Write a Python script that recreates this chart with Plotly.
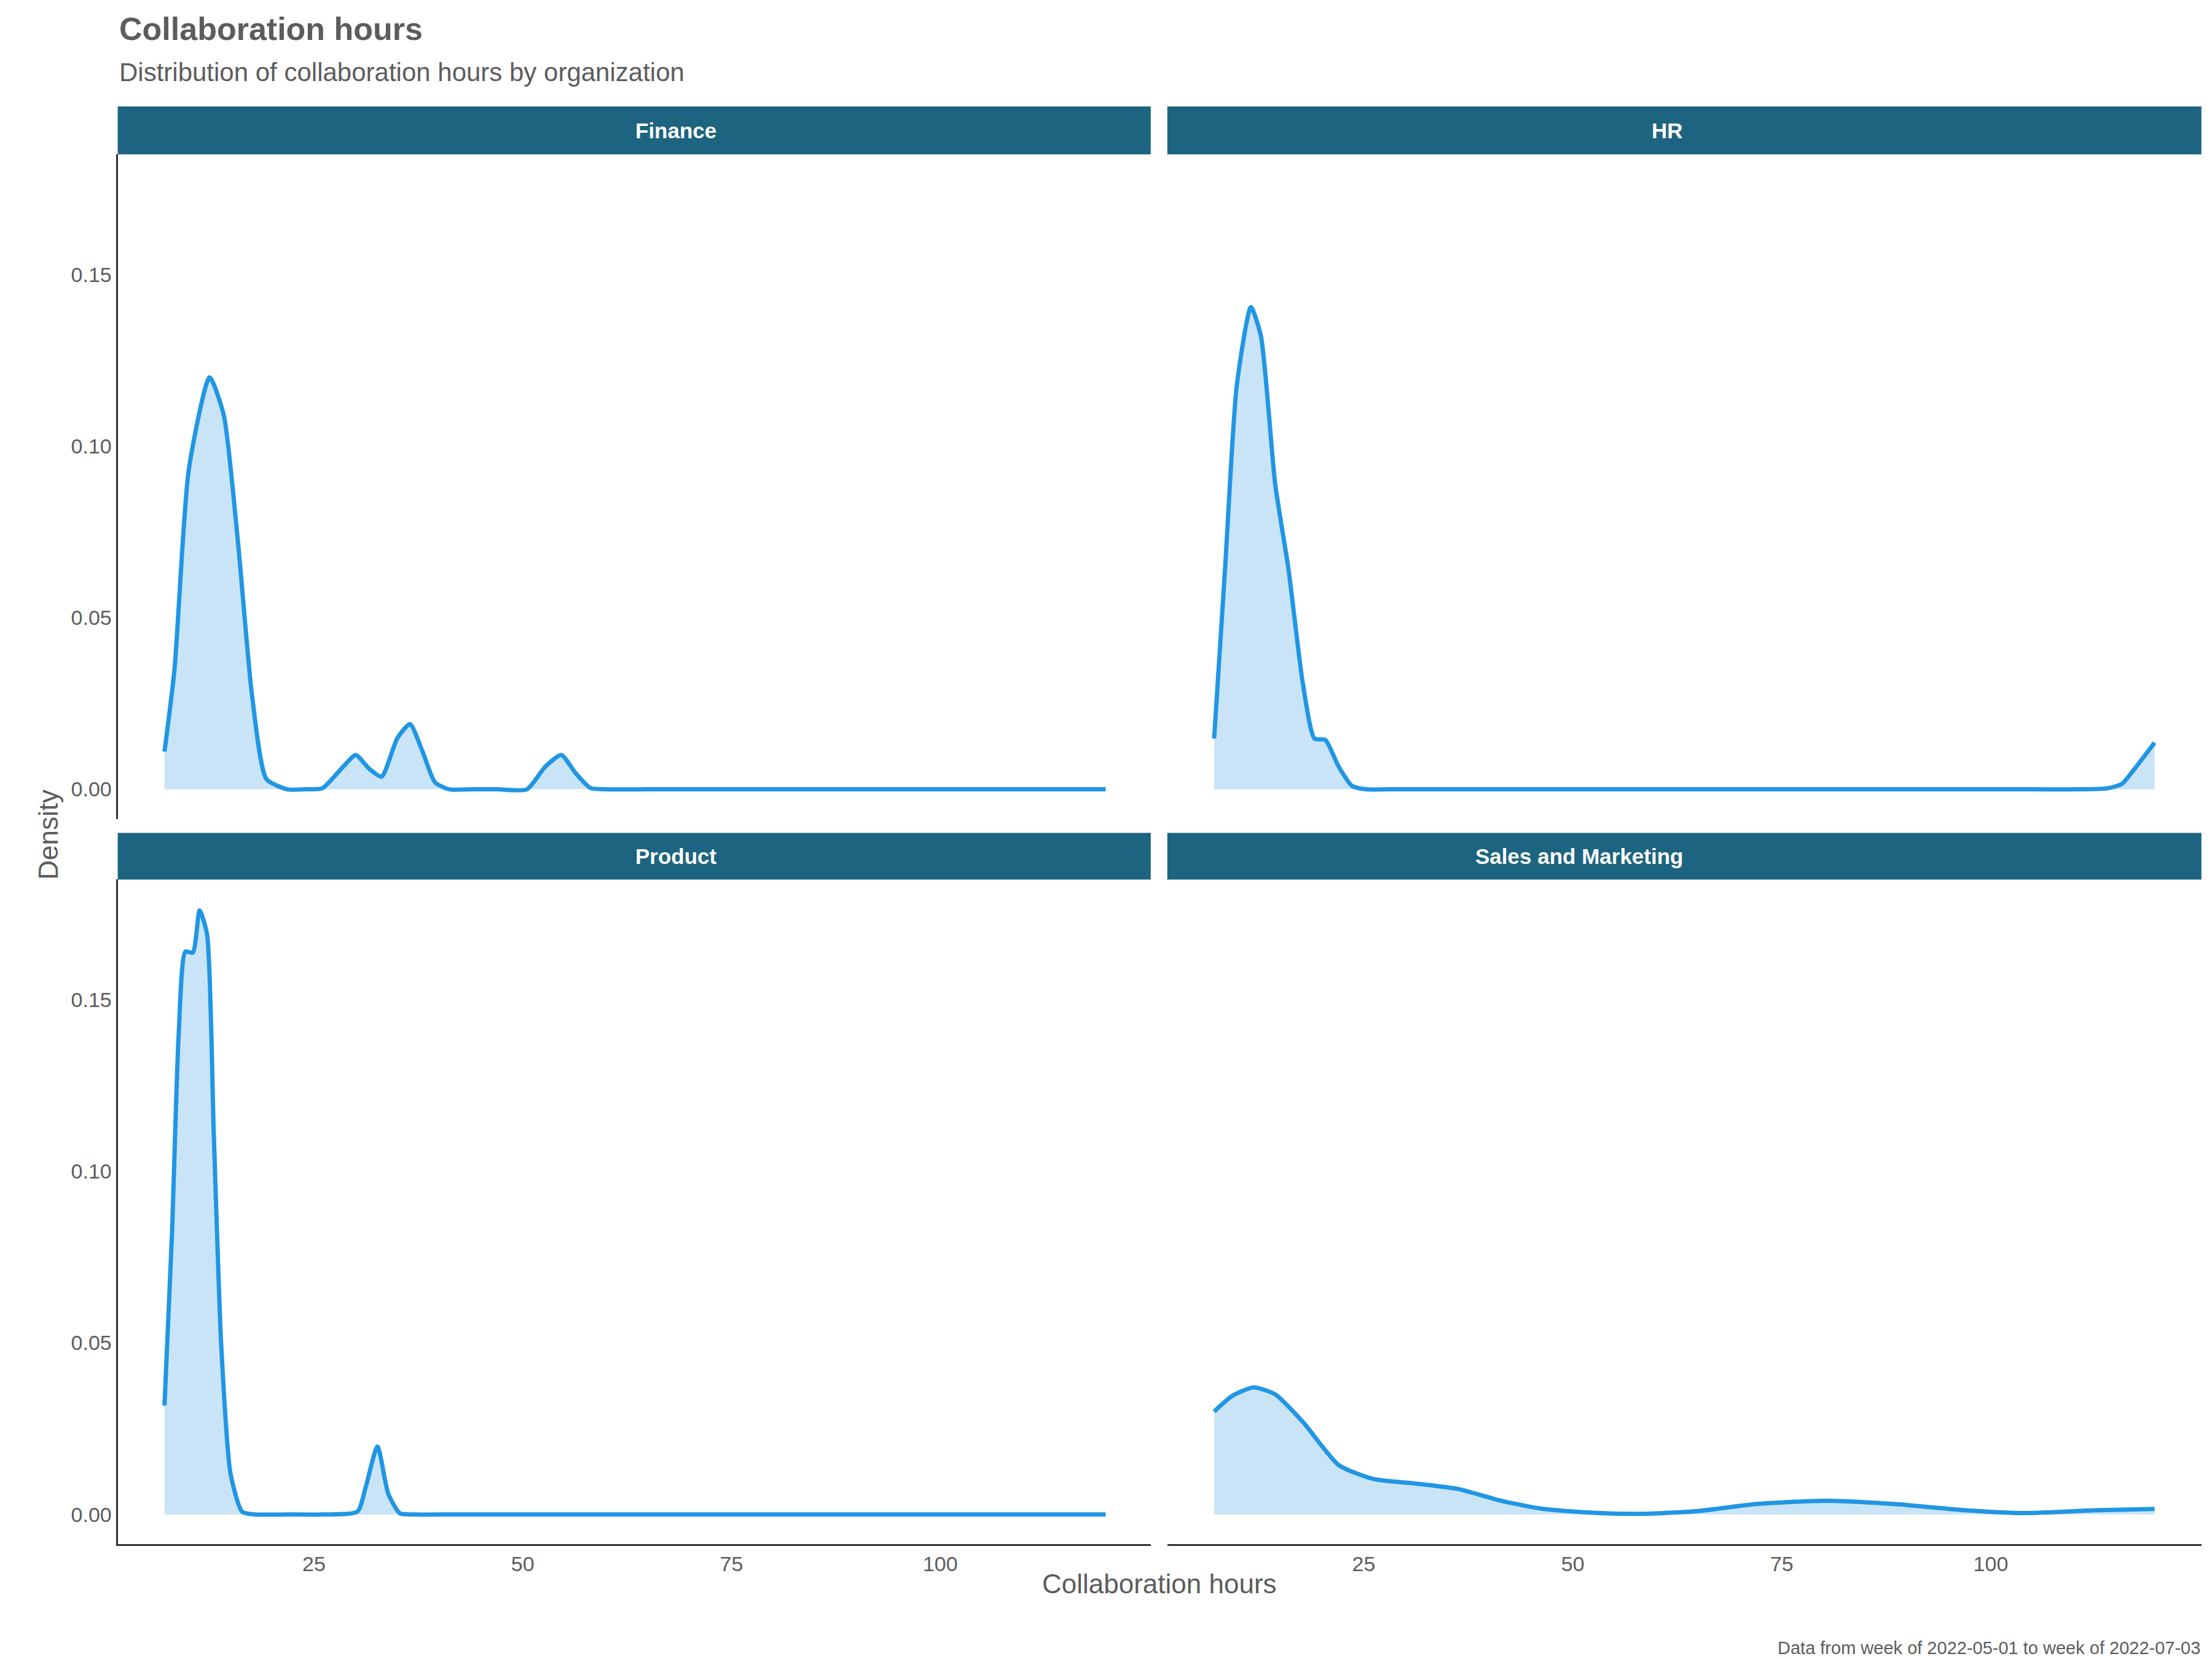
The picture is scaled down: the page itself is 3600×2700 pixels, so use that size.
import plotly.graph_objects as go

# density curves (x = collaboration hours, y = density)
finance_x = [7.1, 8.3, 10, 12.5, 14.2, 15.9, 17.6, 19.3, 21.8, 24, 26, 28.5, 30, 31.6, 33.1, 35, 36.5, 38, 39.5, 41.2, 44, 47, 50.5, 52.7, 54.6, 56.4, 58.1, 60, 65, 75, 85, 95, 105, 112, 119.8]
finance_y = [0.011, 0.035, 0.093, 0.120, 0.109, 0.072, 0.027, 0.003, 0.0, 0.0, 0.0003, 0.0066, 0.010, 0.006, 0.0037, 0.015, 0.019, 0.011, 0.002, 0.0, 0.0, 0.0, 0.0, 0.0066, 0.010, 0.0045, 0.0004, 0.0, 0.0, 0.0, 0.0, 0.0, 0.0, 0.0, 0.0]

hr_x = [7.1, 8.4, 9.8, 11.5, 12.7, 14.4, 16, 17.7, 19.1, 20.4, 22.0, 23.6, 25.3, 28, 35, 45, 55, 65, 75, 85, 95, 105, 111, 114, 115.7, 117.4, 119.6]
hr_y = [0.0148, 0.064, 0.1175, 0.1405, 0.132, 0.089, 0.064, 0.031, 0.0148, 0.0144, 0.0066, 0.001, 0.0, 0.0, 0.0, 0.0, 0.0, 0.0, 0.0, 0.0, 0.0, 0.0, 0.0, 0.0003, 0.0016, 0.0066, 0.0136]

product_x = [7.1, 8, 8.8, 9.6, 10.5, 11.3, 12.2, 13, 13.9, 15, 16.4, 18, 21.8, 26, 30.2, 31.2, 32.6, 33.9, 35.3, 37, 42, 50, 60, 70, 80, 90, 100, 110, 119.8]
product_y = [0.0317, 0.082, 0.140, 0.164, 0.1637, 0.176, 0.169, 0.111, 0.049, 0.012, 0.0008, 0.0, 0.0, 0.0, 0.0008, 0.008, 0.0198, 0.006, 0.0003, 0.0, 0.0, 0.0, 0.0, 0.0, 0.0, 0.0, 0.0, 0.0, 0.0]

sales_x = [7.1, 9.3, 11.8, 14.4, 17.7, 22, 26.2, 31.2, 36.3, 41.4, 46.5, 53.2, 58.3, 65, 71.8, 80.2, 88.7, 97.1, 103.9, 112.4, 119.6]
sales_y = [0.030, 0.0346, 0.037, 0.035, 0.027, 0.0144, 0.0103, 0.009, 0.0074, 0.004, 0.0016, 0.0004, 0.0002, 0.001, 0.003, 0.004, 0.003, 0.0012, 0.0004, 0.0012, 0.0016]

panels = ["Finance", "HR", "Product", "Sales and Marketing"]
series = [(finance_x, finance_y), (hr_x, hr_y), (product_x, product_y), (sales_x, sales_y)]

x_ticks = [25, 50, 75, 100]
y_ticks = [0.0, 0.05, 0.10, 0.15]

LINE = "#2196e3"
FILL = "#c9e4f7"
STRIP = "#1d6480"
GREY = "#5c5c5c"
FONT = "Liberation Sans, Arial, sans-serif"

x_dom = [(0.051, 0.518), (0.5255, 0.993)]
y_dom = [(0.5094, 0.9099), (0.0723, 0.4728)]
strip_dom = [(0.9099, 0.9388), (0.4728, 0.5009)]

fig = go.Figure()
layout = {}
for i, (name, (xs, ys)) in enumerate(zip(panels, series)):
    r, c = divmod(i, 2)
    n = "" if i == 0 else str(i + 1)
    fig.add_trace(go.Scatter(
        x=xs, y=ys, mode="lines", line=dict(color=LINE, width=7, shape="spline", smoothing=0.6),
        fill="tozeroy", fillcolor=FILL, showlegend=False, xaxis="x" + n, yaxis="y" + n,
    ))
    layout["xaxis" + n] = dict(
        domain=x_dom[c], range=[1.5, 125.2], anchor="y" + n,
        tickvals=x_ticks if r == 1 else [], showticklabels=(r == 1),
        showgrid=False, zeroline=False, showline=(r == 1), linecolor="#333333", linewidth=3,
        ticks="", tickfont=dict(size=34, color=GREY, family=FONT),
    )
    layout["yaxis" + n] = dict(
        domain=y_dom[r], range=[-0.0086, 0.185], anchor="x" + n,
        tickvals=y_ticks if c == 0 else [], showticklabels=(c == 0),
        tickformat=".2f", showgrid=False, zeroline=False,
        showline=(c == 0), linecolor="#333333", linewidth=3,
        ticks="", tickfont=dict(size=34, color=GREY, family=FONT),
    )
    fig.add_shape(type="rect", xref="paper", yref="paper",
                  x0=x_dom[c][0], x1=x_dom[c][1], y0=strip_dom[r][0], y1=strip_dom[r][1],
                  fillcolor=STRIP, line=dict(width=0))
    fig.add_annotation(text="<b>" + name + "</b>", xref="paper", yref="paper",
                       x=sum(x_dom[c]) / 2, y=sum(strip_dom[r]) / 2, yanchor="middle", showarrow=False,
                       font=dict(size=35, color="white", family=FONT))

fig.update_layout(**layout)

fig.add_annotation(text="<b>Collaboration hours</b>", xref="paper", yref="paper", x=0.051, y=0.997,
                   xanchor="left", yanchor="top", showarrow=False, font=dict(size=52, color=GREY, family=FONT))
fig.add_annotation(text="Distribution of collaboration hours by organization", xref="paper", yref="paper",
                   x=0.051, y=0.969, xanchor="left", yanchor="top", showarrow=False,
                   font=dict(size=42, color=GREY, family=FONT))
fig.add_annotation(text="Collaboration hours", xref="paper", yref="paper", x=0.522, y=0.058,
                   xanchor="center", yanchor="top", showarrow=False, font=dict(size=44, color=GREY, family=FONT))
fig.add_annotation(text="Density", xref="paper", yref="paper", x=0.012, y=0.5,
                   textangle=-90, showarrow=False, font=dict(size=44, color=GREY, family=FONT))
fig.add_annotation(text="Data from week of 2022-05-01 to week of 2022-07-03", xref="paper", yref="paper",
                   x=0.993, y=0.003, xanchor="right", yanchor="bottom", showarrow=False,
                   font=dict(size=29, color=GREY, family=FONT))

fig.update_layout(width=3600, height=2700, margin=dict(l=0, r=0, t=0, b=0, autoexpand=False),
                  plot_bgcolor="white", paper_bgcolor="white")

fig.write_html("out.html")
